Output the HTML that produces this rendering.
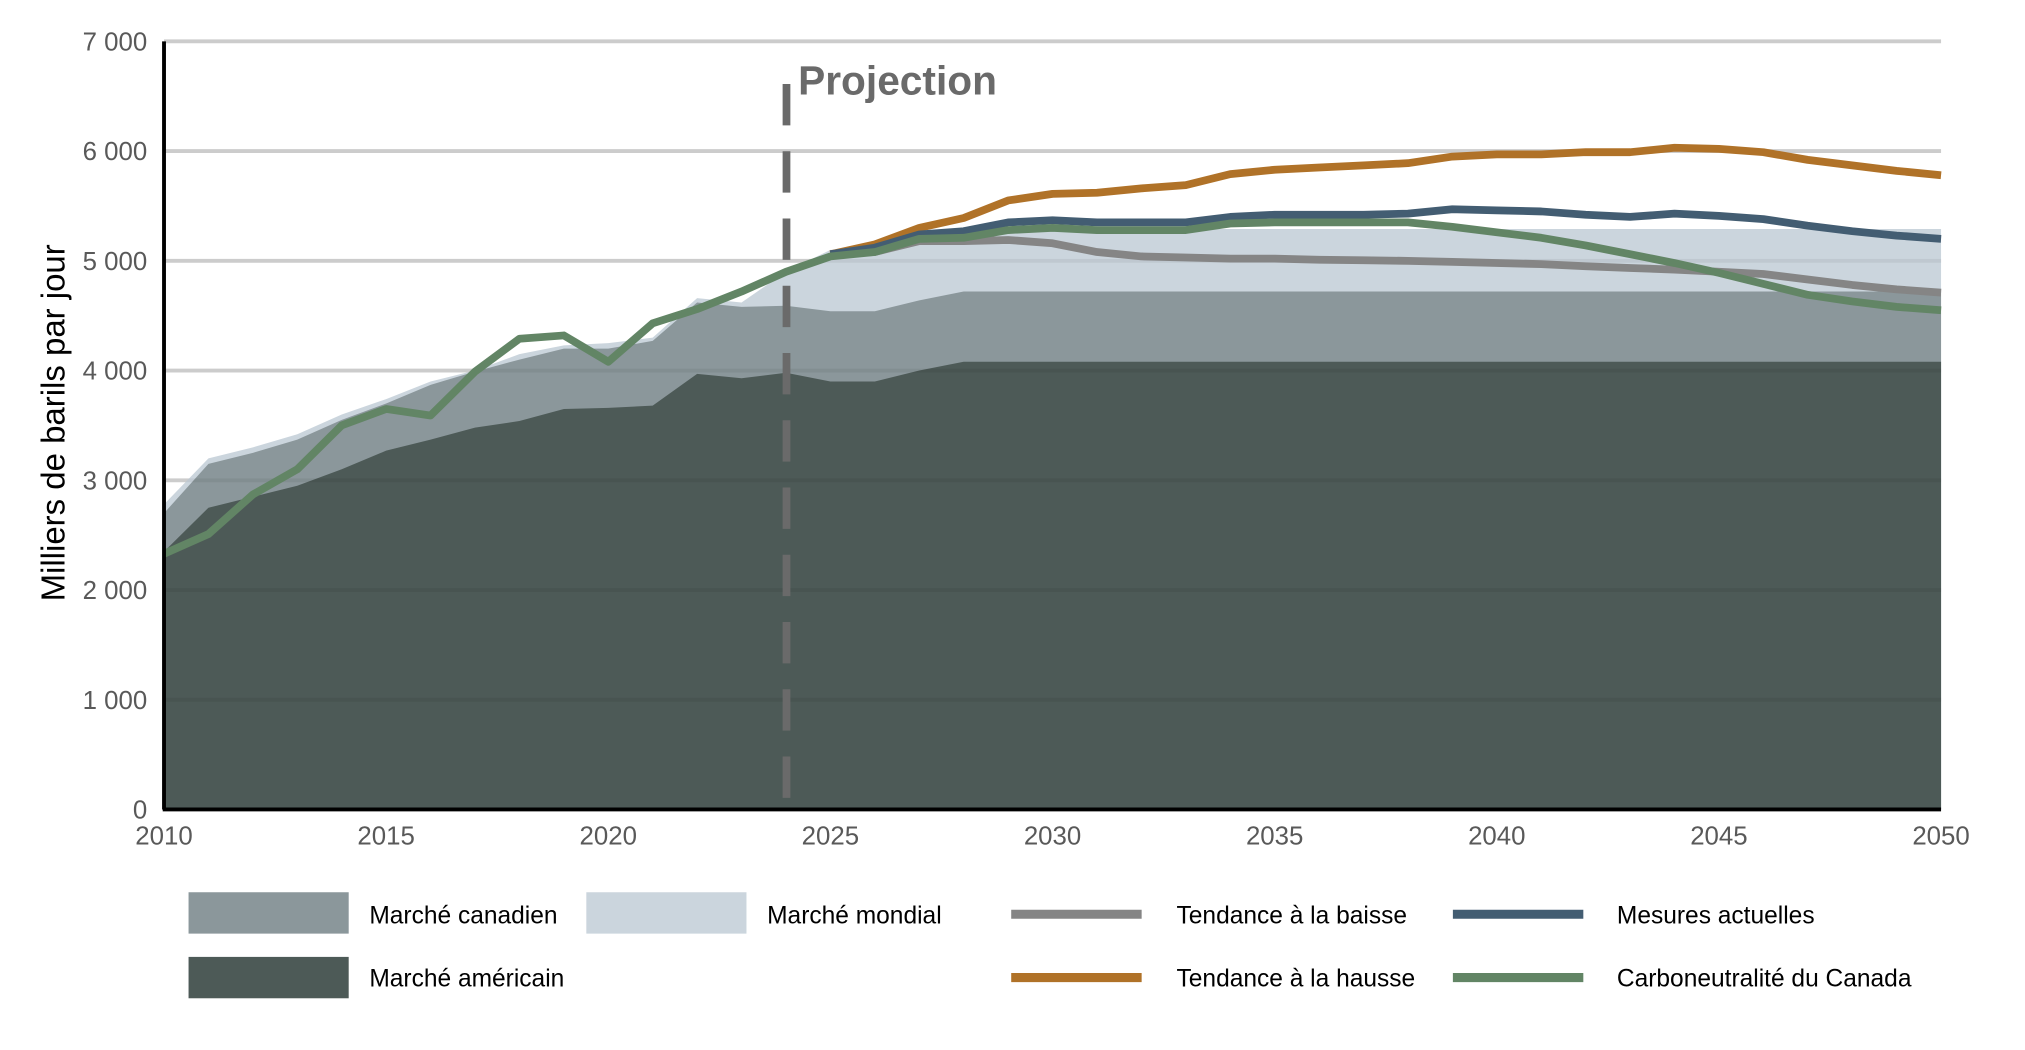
<!DOCTYPE html>
<html><head><meta charset="utf-8"><style>
html,body{margin:0;padding:0;background:#fff;}
svg{display:block;font-family:"Liberation Sans",sans-serif;}
</style></head><body>
<svg id="s" width="2025" height="1050" viewBox="0 0 1568 812" preserveAspectRatio="none" xmlns="http://www.w3.org/2000/svg">
<g id="grid"></g>
<path id="world" fill="#cbd5dd"/>
<path id="can" fill="#8b979b"/>
<path id="us" fill="#4d5a57"/>
<g id="grid2"></g>
<line x1="609" y1="65" x2="609" y2="626" stroke="#6a6a6a" stroke-width="6" stroke-dasharray="32,20"/>
<text x="618" y="73" font-size="31.5" font-weight="bold" fill="#6a6a6a">Projection</text>
<g id="lines" fill="none" stroke-width="6" stroke-linejoin="round"></g>
<line x1="127" y1="32" x2="127" y2="626" stroke="#000" stroke-width="3"/>
<line x1="126" y1="626" x2="1503" y2="626" stroke="#000" stroke-width="3"/>
<g id="labels" font-size="20" fill="#595959"></g>
<text transform="translate(50,327) rotate(-90)" text-anchor="middle" font-size="25.5" fill="#000">Milliers de barils par jour</text>
<g font-size="19" fill="#000">
<rect x="146" y="690" width="124" height="32" fill="#8b979b"/><text x="286" y="714">Marché canadien</text>
<rect x="454" y="690" width="124" height="32" fill="#cbd5dd"/><text x="594" y="714">Marché mondial</text>
<rect x="146" y="740" width="124" height="32" fill="#4d5a57"/><text x="286" y="763">Marché américain</text>
<line x1="783" y1="707" x2="884" y2="707" stroke="#858585" stroke-width="7"/><text x="911" y="714">Tendance à la baisse</text>
<line x1="783" y1="756" x2="884" y2="756" stroke="#b07228" stroke-width="7"/><text x="911" y="763">Tendance à la hausse</text>
<line x1="1125" y1="707" x2="1226" y2="707" stroke="#435d72" stroke-width="7"/><text x="1252" y="714">Mesures actuelles</text>
<line x1="1125" y1="756" x2="1226" y2="756" stroke="#628565" stroke-width="7"/><text x="1252" y="763">Carboneutralité du Canada</text>
</g>
</svg>
<script>
const X=y=>127+(y-2010)*34.4, Y=v=>626-v*0.08486;
const us=[2350,2750,2850,2950,3100,3270,3370,3480,3540,3650,3660,3680,3970,3930,3980,3900,3900,4000,4080];
const can=[2700,3150,3250,3370,3550,3700,3870,3990,4100,4200,4200,4270,4620,4580,4590,4540,4540,4640,4720];
const wo=[2780,3200,3300,3420,3600,3740,3900,4000,4150,4230,4250,4300,4660,4620,4900,5100,5120,5200,5250,5290];
function ext(a,n){while(a.length<41)a.push(a[a.length-1]);return a;}
ext(us);ext(can);ext(wo);
function area(a){let d='M'+X(2010)+','+Y(0);a.forEach((v,i)=>d+='L'+X(2010+i)+','+Y(v));return d+'L'+X(2050)+','+Y(0)+'Z';}
document.getElementById('us').setAttribute('d',area(us));
document.getElementById('can').setAttribute('d',area(can));
document.getElementById('world').setAttribute('d',area(wo));
const ns='http://www.w3.org/2000/svg';
const g=document.getElementById('grid'),g2=document.getElementById('grid2'),lb=document.getElementById('labels');
for(let k=0;k<=7;k++){
 const y=Y(k*1000);
 if(k>0){let l=document.createElementNS(ns,'line');l.setAttribute('x1',127);l.setAttribute('x2',1503);l.setAttribute('y1',y);l.setAttribute('y2',y);l.setAttribute('stroke','#d9d9d9');l.setAttribute('stroke-width','3');g.appendChild(l);
 let l2=l.cloneNode();l2.setAttribute('stroke','#000');l2.setAttribute('stroke-opacity','0.06');g2.appendChild(l2);}
 let t=document.createElementNS(ns,'text');t.setAttribute('x',114);t.setAttribute('y',y+7);t.setAttribute('text-anchor','end');t.textContent=k==0?'0':k+' 000';lb.appendChild(t);
}
for(let yr=2010;yr<=2050;yr+=5){let t=document.createElementNS(ns,'text');t.setAttribute('x',X(yr));t.setAttribute('y',653);t.setAttribute('text-anchor','middle');t.textContent=yr;lb.appendChild(t);}
const green=[2330,2510,2870,3100,3500,3650,3590,3990,4290,4320,4080,4430,4560,4720,4900,5040,5080,5200,5210,5280,5300,5280,5280,5280,5340,5350,5350,5350,5350,5310,5260,5210,5140,5060,4980,4890,4790,4690,4630,4580,4550];
const grey=[5060,5080,5180,5180,5190,5160,5080,5040,5030,5020,5020,5010,5005,5000,4990,4980,4970,4950,4935,4920,4900,4880,4830,4780,4740,4710];
const blue=[5060,5120,5240,5270,5350,5370,5350,5350,5350,5400,5420,5420,5420,5430,5470,5460,5450,5420,5400,5430,5410,5380,5320,5270,5230,5200];
const orange=[5060,5150,5300,5390,5550,5610,5620,5660,5690,5790,5830,5850,5870,5890,5950,5970,5970,5990,5990,6030,6020,5990,5920,5870,5820,5780];
const L=document.getElementById('lines');
function line(a,start,c){let d='';a.forEach((v,i)=>d+=(i?'L':'M')+X(start+i)+','+Y(v));let p=document.createElementNS(ns,'path');p.setAttribute('d',d);p.setAttribute('stroke',c);L.appendChild(p);}
line(orange,2025,'#b07228');line(grey,2025,'#858585');line(blue,2025,'#435d72');line(green,2010,'#628565');
</script>
</body></html>
